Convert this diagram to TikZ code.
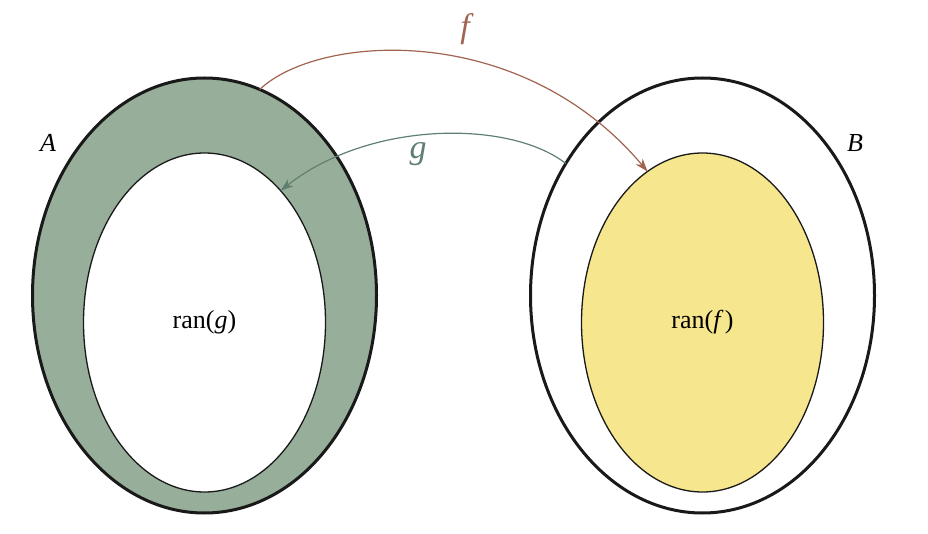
\documentclass[tikz,border=0pt]{standalone}
\usepackage{fontspec}
\setmainfont{Liberation Serif}
\usetikzlibrary{shapes.geometric,arrows.meta}
\definecolor{setgreen}{RGB}{151,174,154}
\definecolor{setyellow}{RGB}{246,230,142}
\definecolor{fcol}{RGB}{160,100,80}
\definecolor{gcol}{RGB}{95,128,112}
\definecolor{edge}{RGB}{25,25,25}
\tikzset{
  outerset/.style={ellipse, draw=edge, line width=3pt, inner sep=0pt, outer sep=0pt,
    minimum width=344pt, minimum height=435pt},
  innerset/.style={ellipse, draw=edge, line width=1.3pt, inner sep=0pt, outer sep=0pt,
    minimum width=242pt, minimum height=339pt, font=\fontsize{26}{30}\selectfont},
  setlabel/.style={font=\fontsize{26}{30}\selectfont\itshape},
  maplabel/.style={font=\fontsize{34}{40}\selectfont\itshape},
  maparrow/.style={line width=1.2pt, -{Stealth[length=13pt, width=9pt, inset=4pt]}}
}
\begin{document}
\begin{tikzpicture}[x=1pt, y=-1pt]
\useasboundingbox[fill=white] (0,0) rectangle (928,534);
\node[outerset, fill=setgreen] (A) at (204.5,295.5) {};
\node[innerset, fill=white] (rg) at (204.5,322.5) {ran(\textit{g})};
\node[outerset] (B) at (702.5,295.5) {};
\node[innerset, fill=setyellow] (rf) at (702.5,322.5) {ran(\textit{f\,})};
\node[setlabel] (lA) at (48,143) {A};
\node[setlabel] (lB) at (855,143) {B};
\draw[maparrow, color=fcol] (A.75) .. controls (318,34) and (520,20) .. (rf.110);
\draw[maparrow, color=gcol] (B.136) .. controls (510,120) and (370,120) .. (rg.60);
\node[maplabel, text=fcol] (lf) at (465,29) {f};
\node[maplabel, text=gcol] (lg) at (418,154) {g};
\end{tikzpicture}
\end{document}
